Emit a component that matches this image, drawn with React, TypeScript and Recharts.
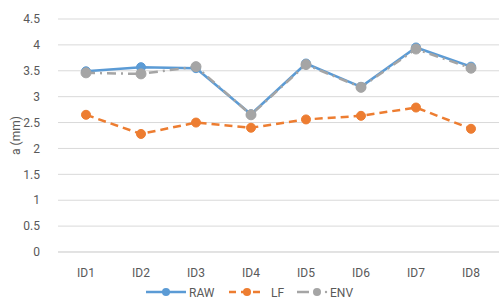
import React from 'react';
import { LineChart, Line, XAxis, YAxis, CartesianGrid, Legend } from 'recharts';

const categories = ['ID1', 'ID2', 'ID3', 'ID4', 'ID5', 'ID6', 'ID7', 'ID8'];
const rawValues = [3.49, 3.57, 3.55, 2.66, 3.64, 3.19, 3.95, 3.58];
const lfValues = [2.65, 2.28, 2.5, 2.4, 2.56, 2.63, 2.79, 2.38];
const envValues = [3.46, 3.44, 3.58, 2.65, 3.62, 3.18, 3.92, 3.55];
const yTicks = [0, 0.5, 1, 1.5, 2, 2.5, 3, 3.5, 4, 4.5];

const data = categories.map((c, i) => ({
  name: c,
  RAW: rawValues[i],
  LF: lfValues[i],
  ENV: envValues[i],
}));

const FONT = 'Roboto, "Open Sans", sans-serif';
const TEXT = '#595959';
const BLUE = '#5B9BD5';
const ORANGE = '#ED7D31';
const GRAY = '#A5A5A5';

const LegendContent = () => (
  <svg width={499} height={20} style={{ display: 'block' }}>
    <g>
      <line x1={146} y1={10} x2={186} y2={10} stroke={BLUE} strokeWidth={2.5} />
      <circle cx={166} cy={10} r={4} fill={BLUE} />
      <text x={189} y={15} fontSize={12} fill={TEXT} fontFamily={FONT}>RAW</text>
    </g>
    <g>
      <line x1={229} y1={10} x2={265} y2={10} stroke={ORANGE} strokeWidth={2.5} strokeDasharray="7 5" />
      <circle cx={247} cy={10} r={4} fill={ORANGE} />
      <text x={271} y={15} fontSize={12} fill={TEXT} fontFamily={FONT}>LF</text>
    </g>
    <g>
      <line x1={297} y1={10} x2={309} y2={10} stroke={GRAY} strokeWidth={2.5} />
      <circle cx={317} cy={10} r={4} fill={GRAY} />
      <circle cx={326} cy={10} r={1.2} fill={GRAY} />
      <text x={330} y={15} fontSize={12} fill={TEXT} fontFamily={FONT}>ENV</text>
    </g>
  </svg>
);

export default function App() {
  return (
    <div style={{ position: 'absolute', left: 0, top: 0, width: 499, height: 304, background: '#fff' }}>
      <LineChart
        width={499}
        height={304}
        data={data}
        margin={{ top: 19, right: 0, left: 0, bottom: 2 }}
      >
        <CartesianGrid vertical={false} stroke="#D9D9D9" strokeWidth={1} />
        <XAxis
          dataKey="name"
          axisLine={{ stroke: '#D9D9D9' }}
          tickLine={false}
          height={30}
          padding={{ left: 28, right: 28 }}
          tick={{ fill: TEXT, fontSize: 12, fontFamily: FONT }}
          tickMargin={10}
        />
        <YAxis
          domain={[0, 4.5]}
          ticks={yTicks}
          axisLine={false}
          tickLine={false}
          width={58}
          interval={0}
          tick={{ fill: TEXT, fontSize: 12, fontFamily: FONT }}
          tickMargin={12}
          label={{
            value: 'a (mm)',
            angle: -90,
            position: 'insideLeft',
            offset: 16,
            style: { fill: TEXT, fontSize: 12, fontFamily: FONT, textAnchor: 'middle' },
          }}
        />
        <Legend verticalAlign="bottom" height={20} content={<LegendContent />} />
        <Line
          type="linear"
          dataKey="RAW"
          stroke={BLUE}
          strokeWidth={2.5}
          dot={{ r: 4.5, fill: BLUE, stroke: BLUE, strokeWidth: 1 }}
          isAnimationActive={false}
        />
        <Line
          type="linear"
          dataKey="LF"
          stroke={ORANGE}
          strokeWidth={2.5}
          strokeDasharray="8 5"
          dot={{ r: 4.5, fill: ORANGE, stroke: ORANGE, strokeWidth: 1, strokeDasharray: '' }}
          isAnimationActive={false}
        />
        <Line
          type="linear"
          dataKey="ENV"
          stroke={GRAY}
          strokeWidth={2.5}
          strokeDasharray="9 5 2 5"
          dot={{ r: 5, fill: GRAY, stroke: GRAY, strokeWidth: 1, strokeDasharray: '' }}
          isAnimationActive={false}
        />
      </LineChart>
    </div>
  );
}
